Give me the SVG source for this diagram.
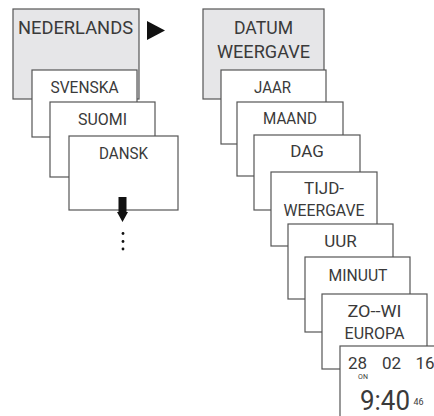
<svg xmlns="http://www.w3.org/2000/svg" width="434" height="416" viewBox="0 0 434 416">
<style>
.box{fill:#fff;stroke:#555;stroke-width:1.2}
.grey{fill:#e6e6e8}
text{font-family:Roboto,"Liberation Sans",sans-serif;fill:#3a3a3a;text-anchor:middle;font-weight:400}
.t{font-size:19px}
.s{font-size:17px}
.arrow{fill:#111}
</style>
<rect width="434" height="416" fill="#fff"/>
<g id="nederlands"><rect class="box grey" x="13" y="9" width="126" height="90"/><text class="t" x="75.5" y="34" textLength="115" lengthAdjust="spacingAndGlyphs">NEDERLANDS</text></g>
<g id="svenska"><rect class="box" x="32" y="70" width="105" height="67"/><text class="s" x="84.5" y="93" textLength="68" lengthAdjust="spacingAndGlyphs">SVENSKA</text></g>
<g id="suomi"><rect class="box" x="50" y="102" width="105" height="75"/><text class="s" x="102.5" y="125" textLength="49" lengthAdjust="spacingAndGlyphs">SUOMI</text></g>
<g id="dansk"><rect class="box" x="69" y="136" width="109" height="74"/><text class="s" x="123.5" y="159" textLength="49" lengthAdjust="spacingAndGlyphs">DANSK</text></g>
<g id="datum"><rect class="box grey" x="203" y="9" width="121" height="90"/><text class="t" x="263.5" y="34" textLength="59" lengthAdjust="spacingAndGlyphs">DATUM</text><text class="t" x="263.5" y="58" textLength="93" lengthAdjust="spacingAndGlyphs">WEERGAVE</text></g>
<g id="jaar"><rect class="box" x="221" y="70" width="105" height="74"/><text class="s" x="272.5" y="93" textLength="37" lengthAdjust="spacingAndGlyphs">JAAR</text></g>
<g id="maand"><rect class="box" x="237" y="102" width="106" height="74"/><text class="s" x="290" y="124" textLength="54" lengthAdjust="spacingAndGlyphs">MAAND</text></g>
<g id="dag"><rect class="box" x="254" y="135" width="106" height="75"/><text class="s" x="307" y="157">DAG</text></g>
<g id="tijd"><rect class="box" x="271" y="172" width="106" height="74"/><text class="s" x="324" y="194">TIJD-</text><text class="s" x="324" y="216" textLength="81" lengthAdjust="spacingAndGlyphs">WEERGAVE</text></g>
<g id="uur"><rect class="box" x="288" y="224" width="105" height="75"/><text class="s" x="340.5" y="247">UUR</text></g>
<g id="minuut"><rect class="box" x="305" y="257" width="105" height="75"/><text class="s" x="358" y="281" textLength="59" lengthAdjust="spacingAndGlyphs">MINUUT</text></g>
<g id="zowi"><rect class="box" x="322" y="294" width="105" height="75"/><text class="s" x="374.5" y="317" textLength="54" lengthAdjust="spacingAndGlyphs">ZO--WI</text><text class="s" x="374.5" y="339" textLength="60" lengthAdjust="spacingAndGlyphs">EUROPA</text></g>
<g id="display"><rect class="box" x="340" y="346" width="110" height="80"/>
<text x="357.5" y="369" font-size="17">28</text>
<text x="363" y="378.5" font-size="7">ON</text>
<text x="391.5" y="369" font-size="17">02</text>
<text x="425" y="369" font-size="17">16</text>
<text x="385" y="410" font-size="27" textLength="50" lengthAdjust="spacingAndGlyphs">9:40</text>
<text x="418.5" y="405" font-size="9">46</text>
</g>
<g id="connectors">
<polygon class="arrow" points="147,21 165,30.5 147,40"/>
<polygon class="arrow" points="118.5,197 126.5,197 126.5,212 128,212 122.5,222 117,212 118.5,212"/>
<circle class="arrow" cx="123" cy="233.5" r="1.4"/>
<circle class="arrow" cx="123" cy="241.5" r="1.4"/>
<circle class="arrow" cx="123" cy="249" r="1.4"/>
</g>
</svg>
